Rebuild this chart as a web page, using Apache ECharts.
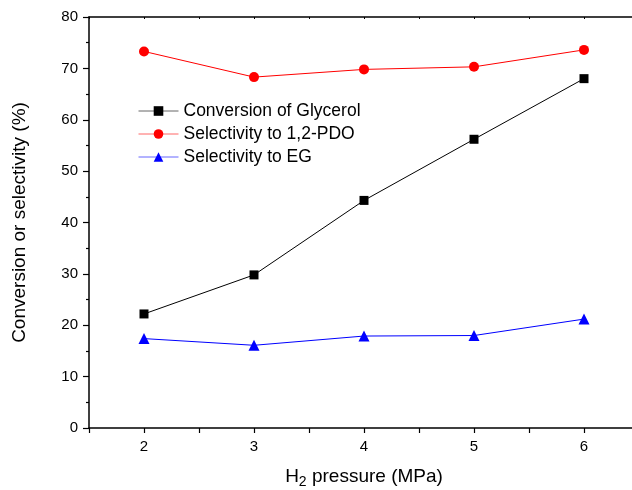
<!DOCTYPE html>
<html>
<head>
<meta charset="utf-8">
<script src="https://cdn.jsdelivr.net/npm/echarts@6/dist/echarts.min.js"></script>
<style>html,body{margin:0;padding:0;background:#fff;}#c{width:632px;height:490px;}</style>
</head>
<body>
<div id="c"></div>
<script>
var pressures = [2, 3, 4, 5, 6];
var conversionGlycerol = [22.2, 29.8, 44.3, 56.2, 68.0];
var selectivityPDO = [73.3, 68.3, 69.8, 70.3, 73.6];
var selectivityEG = [17.4, 16.1, 17.9, 18.0, 21.2];
var seriesNames = ['Conversion of Glycerol', 'Selectivity to 1,2-PDO', 'Selectivity to EG'];

function pairs(vals) { return pressures.map(function (p, i) { return [p, vals[i]]; }); }

var font = '"Liberation Sans", Arial, sans-serif';
var chart = echarts.init(document.getElementById('c'), null, {renderer: 'canvas'});
chart.setOption({
  animation: false,
  backgroundColor: '#fff',
  textStyle: {fontFamily: font},
  grid: {left: 89, width: 550, top: 17, bottom: 62, containLabel: false, outerBoundsMode: 'none'},
  legend: {
    left: 133, top: 97, orient: 'vertical', itemGap: 5, itemWidth: 40, itemHeight: 12,
    textStyle: {fontFamily: font, fontSize: 17.5, lineHeight: 17, color: '#000'},
    lineStyle: {width: 1, opacity: 0.6},
    data: seriesNames
  },
  xAxis: [{
    type: 'value', min: 1.5, max: 6.5, interval: 0.5, position: 'bottom',
    axisLine: {show: true, onZero: false, lineStyle: {color: '#000', width: 1.5}},
    axisTick: {show: true, length: 5, lineStyle: {color: '#000', width: 1.2}},
    splitLine: {show: false},
    axisLabel: {color: '#000', fontSize: 15, fontFamily: font, margin: 11,
      formatter: function (v) { return Math.abs(v - Math.round(v)) < 1e-9 ? String(Math.round(v)) : ''; }},
    name: 'H{sub|2} pressure (MPa)', nameLocation: 'middle', nameGap: 37,
    nameTextStyle: {color: '#000', fontSize: 19, fontFamily: font,
      rich: {sub: {fontSize: 14, fontFamily: font, color: '#000', verticalAlign: 'bottom', padding: [10, 0, 0, 0]}}}
  }, {
    type: 'value', min: 1.5, max: 6.5, interval: 0.5, position: 'top',
    axisLine: {show: true, onZero: false, lineStyle: {color: '#000', width: 1.5}},
    axisTick: {show: true, inside: true, length: 2, lineStyle: {color: '#000'}},
    axisLabel: {show: false}, splitLine: {show: false}
  }],
  yAxis: [{
    type: 'value', min: 0, max: 80, interval: 10,
    axisLine: {show: true, onZero: false, lineStyle: {color: '#000', width: 1.5}},
    axisTick: {show: true, length: 6, lineStyle: {color: '#000', width: 1.2}},
    minorTick: {show: true, splitNumber: 2, length: 3, lineStyle: {color: '#000', width: 1.2}},
    splitLine: {show: false},
    axisLabel: {color: '#000', fontSize: 15, fontFamily: font, margin: 11},
    name: 'Conversion or selectivity (%)', nameLocation: 'middle', nameGap: 60,
    nameTextStyle: {color: '#000', fontSize: 19, fontFamily: font}
  }],
  series: [{
    name: seriesNames[0], type: 'line', data: pairs(conversionGlycerol),
    symbol: 'rect', symbolSize: 9, color: '#000',
    lineStyle: {color: '#000', width: 1}, itemStyle: {color: '#000'}
  }, {
    name: seriesNames[1], type: 'line', data: pairs(selectivityPDO),
    symbol: 'circle', symbolSize: 10, color: '#ff0000',
    lineStyle: {color: '#ff0000', width: 1}, itemStyle: {color: '#ff0000'}
  }, {
    name: seriesNames[2], type: 'line', data: pairs(selectivityEG),
    symbol: 'triangle', symbolSize: 11, color: '#0000ff',
    lineStyle: {color: '#0000ff', width: 1}, itemStyle: {color: '#0000ff'}
  }]
});
</script>
</body>
</html>
